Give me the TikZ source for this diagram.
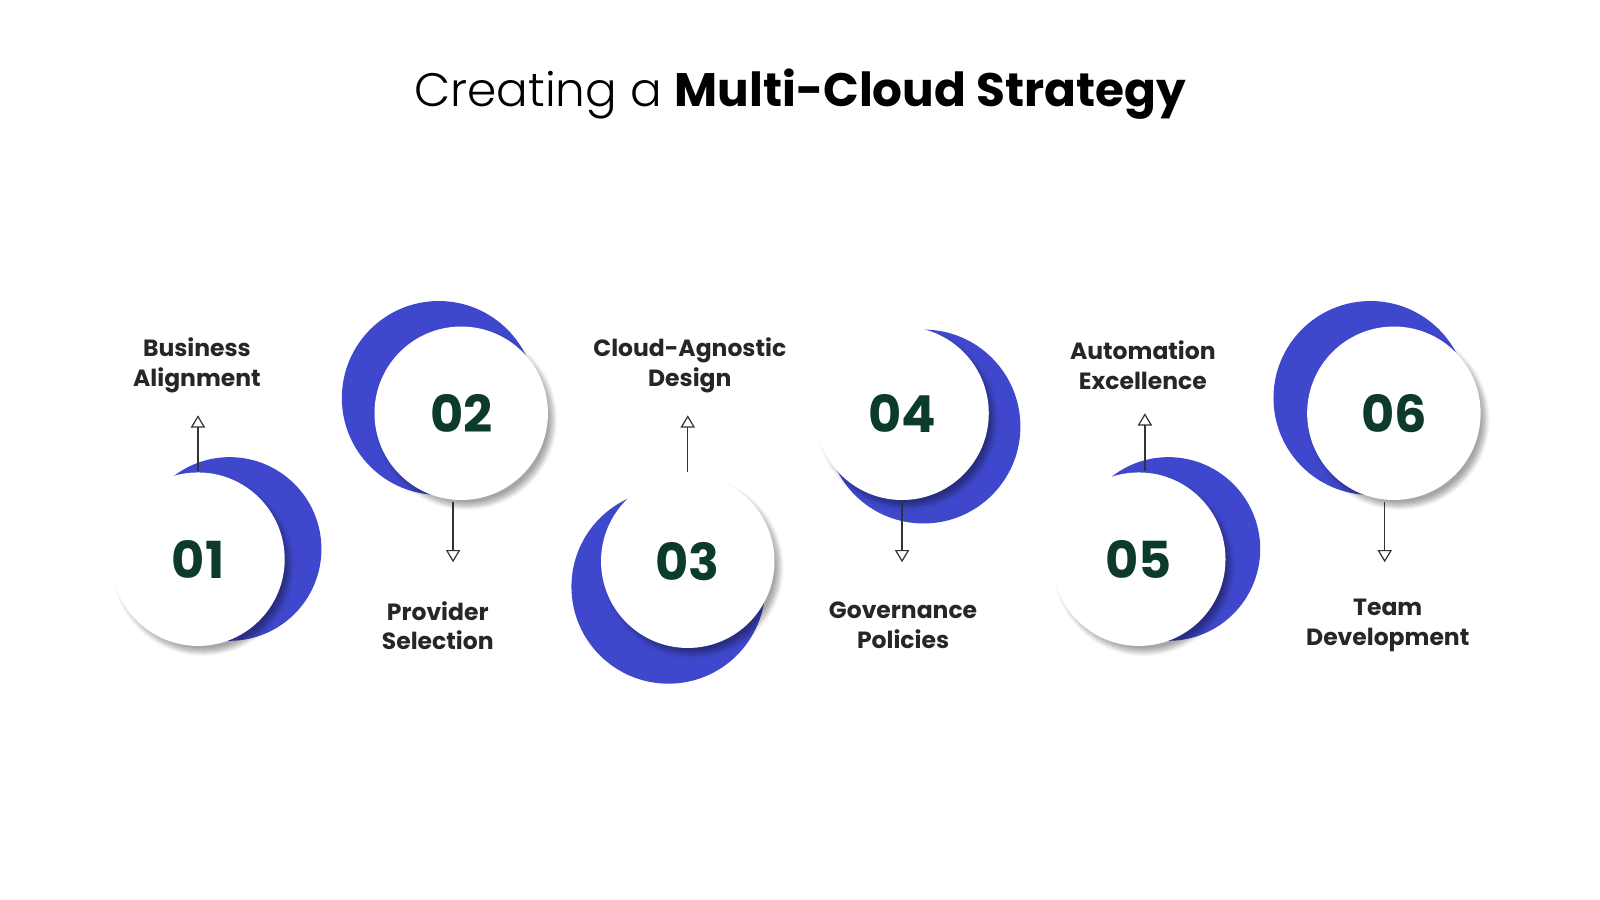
\documentclass[tikz,border=0pt]{standalone}
\usepackage{fontspec}
\setmainfont{Poppins}
\newfontfamily\light{Poppins Light}
\usetikzlibrary{shadows.blur,arrows.meta}
\definecolor{cblue}{HTML}{3F48CC}
\definecolor{cnum}{HTML}{0D3B2A}
\tikzset{
 wcirc/.style={circle,fill=white,minimum size=85pt,inner sep=0,font=\fontsize{25}{25}\selectfont\bfseries,text=cnum,blur shadow={shadow xshift=2.5pt,shadow yshift=-3pt,shadow blur steps=8,shadow opacity=35}},
 bcirc/.style={circle,fill=cblue,inner sep=0},
 lbl/.style={align=center,font=\fontsize{11.5}{14.5}\selectfont\bfseries,text=black!85},
 arr/.style={-{Triangle[open,length=6pt,width=7pt]},line width=0.6pt,black!80}
}
\begin{document}
\begin{tikzpicture}[x=0.5pt,y=-0.5pt]
\useasboundingbox (0,0) rectangle (1568,882);
\node at (784,92) {\fontsize{23}{28}\selectfont{\light Creating a }\textbf{Multi-Cloud Strategy}};
% blue circles
\node[bcirc,minimum size=90pt] (b1) at (225,538) {};
\node[bcirc,minimum size=95pt] (b2) at (430,390) {};
\node[bcirc,minimum size=95pt] (b3) at (655,575) {};
\node[bcirc,minimum size=95pt] (b4) at (905,418) {};
\node[bcirc,minimum size=90pt] (b5) at (1145,538) {};
\node[bcirc,minimum size=95pt] (b6) at (1343,390) {};
% white
\node[wcirc] (w1) at (194,548) {01};
\node[wcirc] (w2) at (452,405) {02};
\node[wcirc] (w3) at (674,550) {03};
\node[wcirc] (w4) at (884,405) {04};
\node[wcirc] (w5) at (1116,548) {05};
\node[wcirc] (w6) at (1366,405) {06};
% labels
\node[lbl] (l1) at (193,358) {Business\\Alignment};
\node[lbl] (l2) at (429,613) {Provider\\Selection};
\node[lbl] (l3) at (676,358) {Cloud-Agnostic\\Design};
\node[lbl] (l4) at (885,613) {Governance\\Policies};
\node[lbl] (l5) at (1120,358) {Automation\\Excellence};
\node[lbl] (l6) at (1360,613) {Team\\Development};
% arrows
\coordinate (s1) at (194,462); \coordinate (e1) at (194,407);
\coordinate (s2) at (444,492); \coordinate (e2) at (444,551);
\coordinate (s3) at (674,463); \coordinate (e3) at (674,407);
\coordinate (s4) at (884,492); \coordinate (e4) at (884,551);
\coordinate (s5) at (1122,462); \coordinate (e5) at (1122,405);
\coordinate (s6) at (1357,492); \coordinate (e6) at (1357,551);
\foreach \i in {1,...,6} \draw[arr] (s\i) -- (e\i);
\end{tikzpicture}
\end{document}
